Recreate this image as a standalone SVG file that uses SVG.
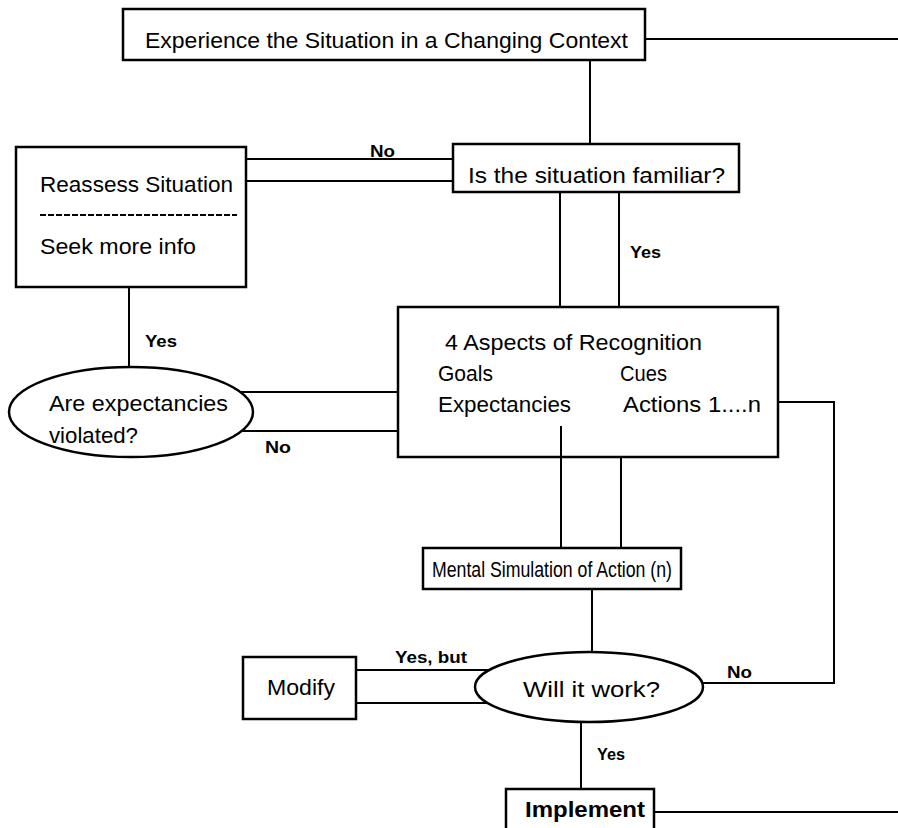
<svg xmlns="http://www.w3.org/2000/svg" width="898" height="828" viewBox="0 0 898 828">
<style>
.bg{fill:#fff}
.box{fill:#fff;stroke:#000;stroke-width:2.5}
.ln{fill:none;stroke:#000;stroke-width:2}
.t{font-family:"Liberation Sans",Arial,sans-serif;font-size:22px;fill:#000}
.lb{font-family:"Liberation Sans",Arial,sans-serif;font-size:16px;font-weight:bold;fill:#000}
.b{font-weight:bold}
</style>
<rect class="bg" x="0" y="0" width="898" height="828"/>
<g id="connectors">
<line class="ln" x1="645" y1="39" x2="898" y2="39"/>
<line class="ln" x1="590" y1="60" x2="590" y2="144"/>
<line class="ln" x1="246" y1="159" x2="453" y2="159"/>
<line class="ln" x1="246" y1="181" x2="453" y2="181"/>
<line class="ln" x1="560" y1="192" x2="560" y2="307"/>
<line class="ln" x1="619" y1="192" x2="619" y2="307"/>
<line class="ln" x1="129" y1="287" x2="129" y2="368"/>
<line class="ln" x1="240" y1="392" x2="398" y2="392"/>
<line class="ln" x1="241" y1="431" x2="398" y2="431"/>
<line class="ln" x1="621" y1="457" x2="621" y2="548"/>
<polyline class="ln" points="778,402 834,402 834,683 703,683"/>
<line class="ln" x1="592" y1="589" x2="592" y2="652"/>
<line class="ln" x1="356" y1="670" x2="489" y2="670"/>
<line class="ln" x1="356" y1="703" x2="488" y2="703"/>
<line class="ln" x1="581" y1="722" x2="581" y2="789"/>
<line class="ln" x1="654" y1="812" x2="898" y2="812"/>
<text class="lb" x="370" y="157" textLength="25" lengthAdjust="spacingAndGlyphs">No</text>
<text class="lb" x="630" y="258" textLength="31" lengthAdjust="spacingAndGlyphs">Yes</text>
<text class="lb" x="145" y="347" textLength="32" lengthAdjust="spacingAndGlyphs">Yes</text>
<text class="lb" x="265" y="453" textLength="26" lengthAdjust="spacingAndGlyphs">No</text>
<text class="lb" x="395" y="663" textLength="72" lengthAdjust="spacingAndGlyphs">Yes, but</text>
<text class="lb" x="727" y="678" textLength="25" lengthAdjust="spacingAndGlyphs">No</text>
<text class="lb" x="597" y="760" textLength="28" lengthAdjust="spacingAndGlyphs">Yes</text>
</g>
<g id="experience">
<rect class="box" x="123" y="9" width="522" height="51"/>
<text class="t" x="145" y="48" textLength="483" lengthAdjust="spacingAndGlyphs">Experience the Situation in a Changing Context</text>
</g>
<g id="familiar">
<rect class="box" x="453" y="144" width="286" height="48"/>
<text class="t" x="468" y="183" textLength="257" lengthAdjust="spacingAndGlyphs">Is the situation familiar?</text>
</g>
<g id="reassess">
<rect class="box" x="16" y="147" width="230" height="140"/>
<text class="t" x="40" y="192" textLength="193" lengthAdjust="spacingAndGlyphs">Reassess Situation</text>
<line x1="40" y1="215" x2="237" y2="215" stroke="#000" stroke-width="2" stroke-dasharray="6,2"/>
<text class="t" x="40" y="254" textLength="156" lengthAdjust="spacingAndGlyphs">Seek more info</text>
</g>
<g id="expectancies">
<ellipse class="box" cx="131" cy="412" rx="122" ry="45"/>
<text class="t" x="49" y="411" textLength="179" lengthAdjust="spacingAndGlyphs">Are expectancies</text>
<text class="t" x="49" y="443" textLength="89" lengthAdjust="spacingAndGlyphs">violated?</text>
</g>
<g id="aspects">
<rect class="box" x="398" y="307" width="380" height="150"/>
<text class="t" x="445" y="350" textLength="257" lengthAdjust="spacingAndGlyphs">4 Aspects of Recognition</text>
<text class="t" x="438" y="381" textLength="55" lengthAdjust="spacingAndGlyphs">Goals</text>
<text class="t" x="620" y="381" textLength="47" lengthAdjust="spacingAndGlyphs">Cues</text>
<text class="t" x="438" y="412" textLength="133" lengthAdjust="spacingAndGlyphs">Expectancies</text>
<text class="t" x="623" y="412" textLength="138" lengthAdjust="spacingAndGlyphs">Actions 1....n</text>
<line class="ln" x1="561" y1="426" x2="561" y2="548"/>
</g>
<g id="simulation">
<rect class="box" x="423" y="548" width="258" height="41"/>
<text class="t" x="432" y="577" textLength="240" lengthAdjust="spacingAndGlyphs">Mental Simulation of Action (n)</text>
</g>
<g id="modify">
<rect class="box" x="243" y="657" width="113" height="62"/>
<text class="t" x="267" y="695" textLength="68" lengthAdjust="spacingAndGlyphs">Modify</text>
</g>
<g id="work">
<ellipse class="box" cx="589" cy="687" rx="114" ry="35"/>
<text class="t" x="523" y="697" textLength="137" lengthAdjust="spacingAndGlyphs">Will it work?</text>
</g>
<g id="implement">
<rect class="box" x="506" y="789" width="148" height="45"/>
<text class="t b" x="525" y="817" textLength="120" lengthAdjust="spacingAndGlyphs">Implement</text>
</g>
</svg>
